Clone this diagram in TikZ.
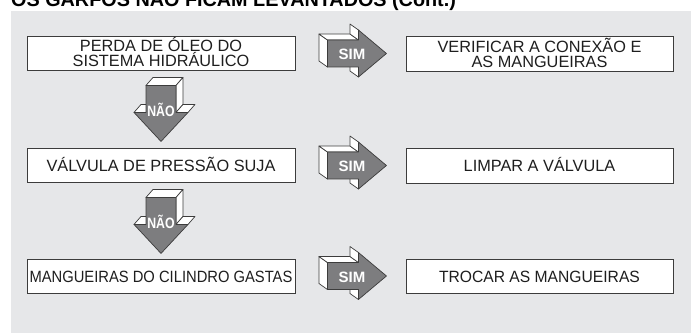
\documentclass[tikz,border=0pt]{standalone}
\usepackage{fontspec}
\setmainfont{Liberation Sans}
\usepackage{graphicx}
\usetikzlibrary{calc}
\definecolor{panel}{RGB}{230,231,233}
\definecolor{arrowfill}{RGB}{125,125,127}
\definecolor{edge}{RGB}{60,60,60}
\definecolor{ink}{RGB}{30,30,30}
\tikzset{
  box/.style={draw=edge, line width=0.9pt, fill=white, minimum width=268pt,
    minimum height=34pt, inner sep=0pt, text=ink,
    font=\fontsize{16.3}{15}\selectfont},
  oneline/.style={text height=12.5pt, text depth=0pt},
  twoline/.style={align=center, text height=27.5pt, text depth=0pt,
    execute at begin node={\lineskiplimit=-30pt\relax}},
  face/.style={fill=white, draw=edge, line width=0.7pt, line join=round},
  front/.style={fill=arrowfill, draw=edge, line width=0.7pt, line join=round},
  lbl/.style={text=white, font=\fontsize{15}{15}\selectfont\bfseries, inner sep=0pt, anchor=base},
  pics/simarrow/.style={code={
    \path[face] (0,-13.5) -- (0,13.5) -- (-8.5,7.5) -- (-8.5,-19.5) -- cycle;
    \path[face] (0,-13.5) -- (31,-13.5) -- (22.5,-19.5) -- (-8.5,-19.5) -- cycle;
    \path[face] (31,-13.5) -- (31,-23.5) -- (22.5,-29.5) -- (22.5,-19.5) -- cycle;
    \path[face] (31,13.5) -- (31,23.5) -- (22.5,17.5) -- (22.5,7.5) -- cycle;
    \path[front] (0,-13.5) -- (31,-13.5) -- (31,-23.5) -- (59,0) -- (31,23.5)
      -- (31,13.5) -- (0,13.5) -- cycle;
    \node[lbl] (-t) at (24.5,6) {SIM};
  }},
  pics/naoarrow/.style={code={
    \path[face] (-15,0) -- (15,0) -- (22,-8) -- (-8,-8) -- cycle;
    \path[face] (15,0) -- (15,27) -- (22,19) -- (22,-8) -- cycle;
    \path[face] (-27,27) -- (-15,27) -- (-8,19) -- (-20,19) -- cycle;
    \path[face] (15,27) -- (27,27) -- (34,19) -- (22,19) -- cycle;
    \path[front] (-15,0) -- (15,0) -- (15,27) -- (27,27) -- (0,56)
      -- (-27,27) -- (-15,27) -- cycle;
    \node[lbl] (-t) at (0,31.5) {\scalebox{0.82}[1]{NÃO}};
  }}
}
\begin{document}
\begin{tikzpicture}[x=1pt,y=-1pt]
\useasboundingbox (0,0) rectangle (691,334);
\clip (0,0) rectangle (691,334);
\node[anchor=base west, inner sep=0pt, text=black,
  font=\fontsize{19.8}{20}\selectfont\bfseries] (title) at (11,6.5)
  {OS GARFOS NÃO FICAM LEVANTADOS (Cont.)};
\fill[panel] (11,11) rectangle (691,333);

\node[box, twoline] (l1) at (161,53) {PERDA DE ÓLEO DO\\SISTEMA HIDRÁULICO};
\node[box, oneline] (l2) at (161,165) {VÁLVULA DE PRESSÃO SUJA};
\node[box, oneline] (l3) at (161,276) {\scalebox{0.905}[1]{MANGUEIRAS DO CILINDRO GASTAS}};

\node[box, twoline, minimum width=267pt, minimum height=35pt] (r1) at (539.5,53.5)
  {VERIFICAR A CONEXÃO E\\AS MANGUEIRAS};
\node[box, oneline, minimum width=267pt, minimum height=35pt] (r2) at (539.5,165.5)
  {LIMPAR A VÁLVULA};
\node[box, oneline, minimum width=267pt] (r3) at (539.5,276)
  {\scalebox{0.96}[1]{TROCAR AS MANGUEIRAS}};

\pic (s1) at ($(l1.east)+(32,0.5)$) {simarrow};
\pic (s2) at ($(l2.east)+(32,0.5)$) {simarrow};
\pic (s3) at ($(l3.east)+(32,0)$) {simarrow};
\pic (n1) at ($(l1.south)+(0,15)$) {naoarrow};
\pic (n2) at ($(l2.south)+(0,15)$) {naoarrow};
\end{tikzpicture}
\end{document}
